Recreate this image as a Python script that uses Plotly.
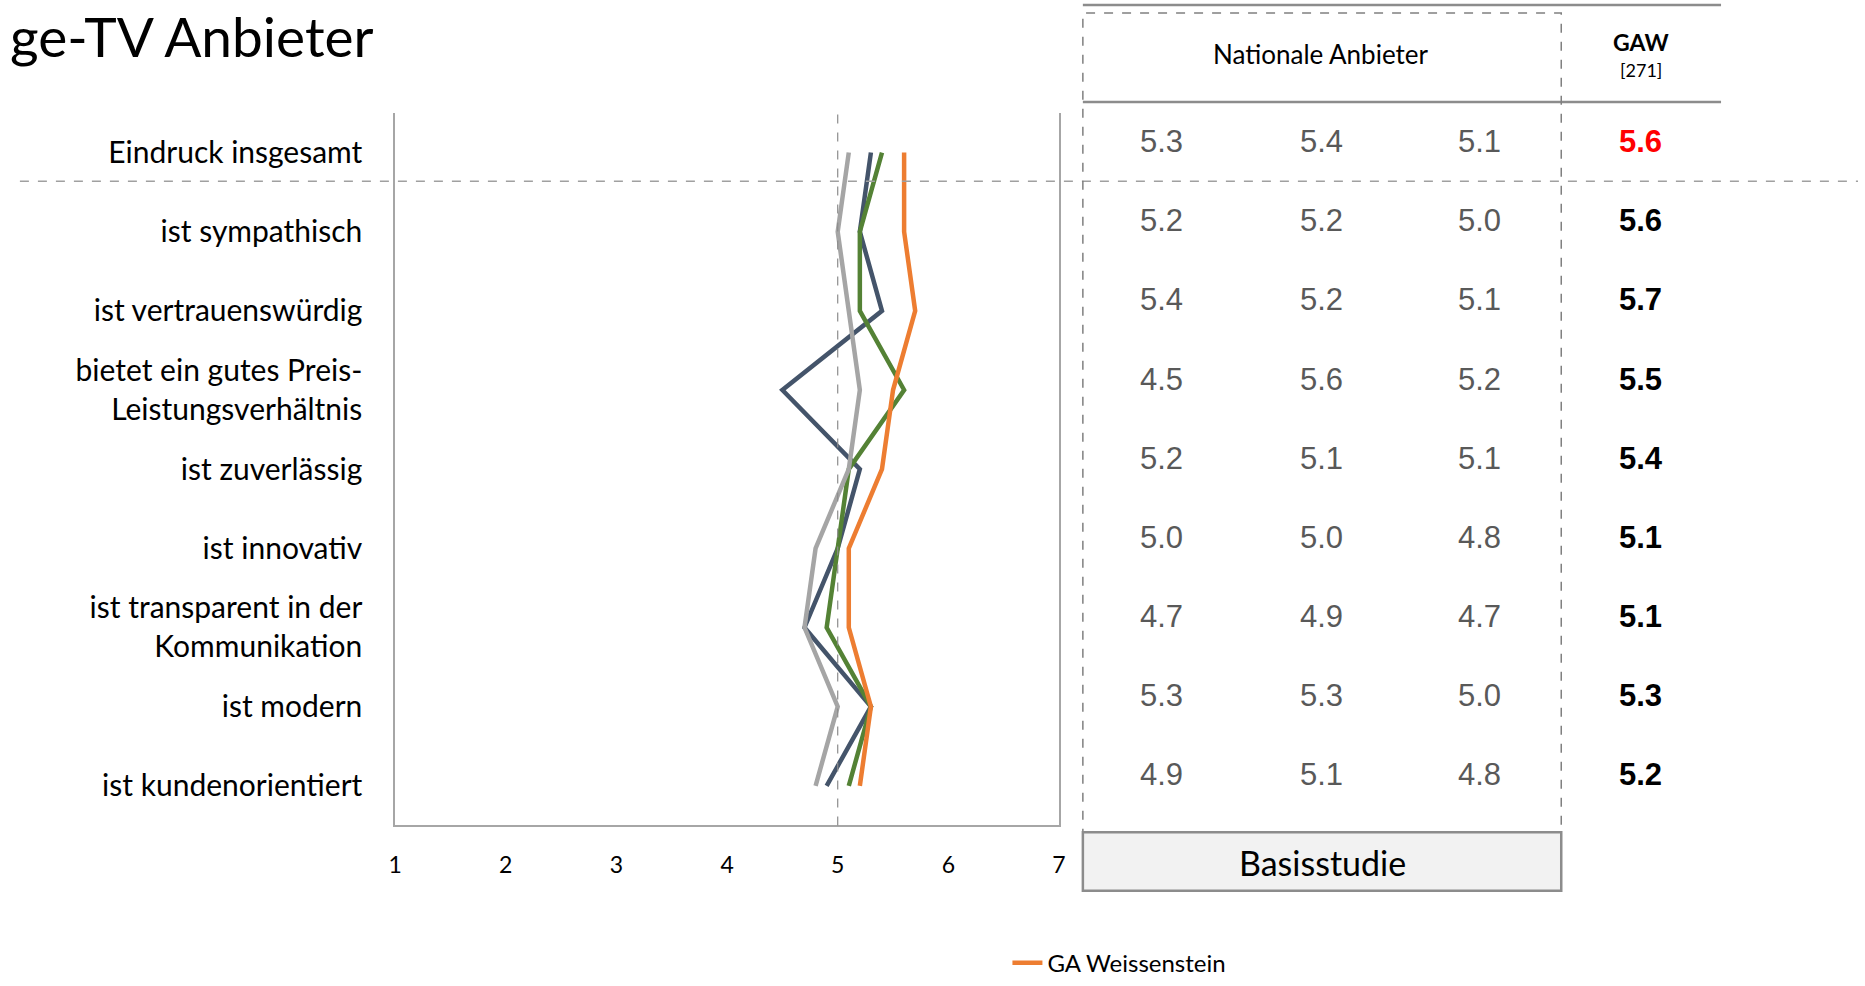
import plotly.graph_objects as go

W, H = 1865, 986

categories = [
    "Eindruck insgesamt",
    "ist sympathisch",
    "ist vertrauenswürdig",
    "bietet ein gutes Preis-<br>Leistungsverhältnis",
    "ist zuverlässig",
    "ist innovativ",
    "ist transparent in der<br>Kommunikation",
    "ist modern",
    "ist kundenorientiert",
]
anbieter_1 = [5.3, 5.2, 5.4, 4.5, 5.2, 5.0, 4.7, 5.3, 4.9]
anbieter_2 = [5.4, 5.2, 5.2, 5.6, 5.1, 5.0, 4.9, 5.3, 5.1]
anbieter_3 = [5.1, 5.0, 5.1, 5.2, 5.1, 4.8, 4.7, 5.0, 4.8]
gaw = [5.6, 5.6, 5.7, 5.5, 5.4, 5.1, 5.1, 5.3, 5.2]
x_ticks = [1, 2, 3, 4, 5, 6, 7]

LABEL_FONT = "Lato, 'Open Sans', sans-serif"
NUM_FONT = "'Liberation Sans', Arial, sans-serif"

def px(x):
    return x / W

def py(y):
    return (H - y) / H

fig = go.Figure()
series = [
    ("Anbieter 1", anbieter_1, "#44546A", False),
    ("Anbieter 2", anbieter_2, "#548235", False),
    ("Anbieter 3", anbieter_3, "#A5A5A5", False),
    ("GA Weissenstein", gaw, "#ED7D31", True),
]
for name, vals, col, sl in series:
    fig.add_trace(go.Scatter(
        x=vals, y=categories, mode="lines", name=name,
        line=dict(color=col, width=4.5), showlegend=sl, hoverinfo="skip",
    ))

fig.update_layout(
    width=W, height=H,
    margin=dict(l=0, r=0, t=0, b=0),
    paper_bgcolor="white", plot_bgcolor="white",
    font=dict(family=LABEL_FONT, color="black"),
    xaxis=dict(
        domain=[px(391), px(1060)], range=[1, 7], tickvals=x_ticks,
        showgrid=False, zeroline=False, showline=True, linecolor="#A6A6A6",
        linewidth=1.5, mirror=False, ticks="", ticklabelstandoff=18,
        tickfont=dict(family=LABEL_FONT, size=23, color="black"),
    ),
    yaxis=dict(
        domain=[py(833), py(114)], type="category",
        categoryorder="array", categoryarray=categories,
        range=[len(categories) - 0.5, -0.5],
        showgrid=False, zeroline=False, showline=True, linecolor="#A6A6A6",
        linewidth=1.5, mirror=True, ticks="", ticklabelstandoff=25,
        tickfont=dict(family=LABEL_FONT, size=30, color="black"),
    ),
    legend=dict(
        x=px(1008), y=py(972), xanchor="left", yanchor="middle",
        bgcolor="rgba(0,0,0,0)", font=dict(family=LABEL_FONT, size=24, color="black"),
    ),
)

shapes = []
shapes.append(dict(type="line", xref="x", yref="y domain", x0=5, x1=5, y0=0, y1=1,
                   line=dict(color="#8C8C8C", width=1.2, dash="dash")))
shapes.append(dict(type="line", xref="paper", yref="paper", x0=px(13), x1=1, y0=py(183), y1=py(183),
                   line=dict(color="#A0A0A0", width=1.5, dash="dash")))
for yy in (5, 103):
    shapes.append(dict(type="line", xref="paper", yref="paper", x0=px(1084), x1=px(1727),
                       y0=py(yy), y1=py(yy), line=dict(color="#8C8C8C", width=2.5)))
shapes.append(dict(type="rect", xref="paper", yref="paper", x0=px(1084), x1=px(1566),
                   y0=py(840), y1=py(13), line=dict(color="#808080", width=1.5, dash="dash")))
shapes.append(dict(type="rect", xref="paper", yref="paper", x0=px(1084), x1=px(1566),
                   y0=py(899), y1=py(840), fillcolor="#F2F2F2",
                   line=dict(color="#8C8C8C", width=2.5)))
fig.update_layout(shapes=shapes)

ann = []
ann.append(dict(text="ge-TV Anbieter", xref="paper", yref="paper", x=px(372), y=py(36),
                xanchor="right", yanchor="middle", showarrow=False,
                font=dict(family=LABEL_FONT, size=55, color="black")))
ann.append(dict(text="Nationale Anbieter", xref="paper", yref="paper", x=px(1324), y=py(55),
                xanchor="center", yanchor="middle", showarrow=False,
                font=dict(family=LABEL_FONT, size=26, color="black")))
ann.append(dict(text="<b>GAW</b>", xref="paper", yref="paper", x=px(1646), y=py(42),
                xanchor="center", yanchor="middle", showarrow=False,
                font=dict(family=LABEL_FONT, size=23, color="black")))
ann.append(dict(text="[271]", xref="paper", yref="paper", x=px(1646), y=py(71),
                xanchor="center", yanchor="middle", showarrow=False,
                font=dict(family=LABEL_FONT, size=18, color="black")))
ann.append(dict(text="Basisstudie", xref="paper", yref="paper", x=px(1325), y=py(870),
                xanchor="center", yanchor="middle", showarrow=False,
                font=dict(family=LABEL_FONT, size=34, color="black")))

col_x = [1163, 1324, 1484]
for cx, vals in zip(col_x, [anbieter_1, anbieter_2, anbieter_3]):
    for cat, v in zip(categories, vals):
        ann.append(dict(text=f"{v:.1f}", xref="paper", yref="y", x=px(cx), y=cat,
                        yshift=11, xanchor="center", yanchor="middle", showarrow=False,
                        font=dict(family=NUM_FONT, size=31, color="#595959")))
for i, (cat, v) in enumerate(zip(categories, gaw)):
    ann.append(dict(text=f"<b>{v:.1f}</b>", xref="paper", yref="y", x=px(1646), y=cat,
                    yshift=11, xanchor="center", yanchor="middle", showarrow=False,
                    font=dict(family=NUM_FONT, size=31, color="#FF0000" if i == 0 else "black")))
fig.update_layout(annotations=ann)

post = (
    "document.documentElement.style.margin='0';"
    "document.body.style.margin='0';"
    "document.documentElement.style.overflow='hidden';"
    "document.body.style.overflow='hidden';"
)
fig.write_html("out.html", config={"displayModeBar": False}, post_script=post)
